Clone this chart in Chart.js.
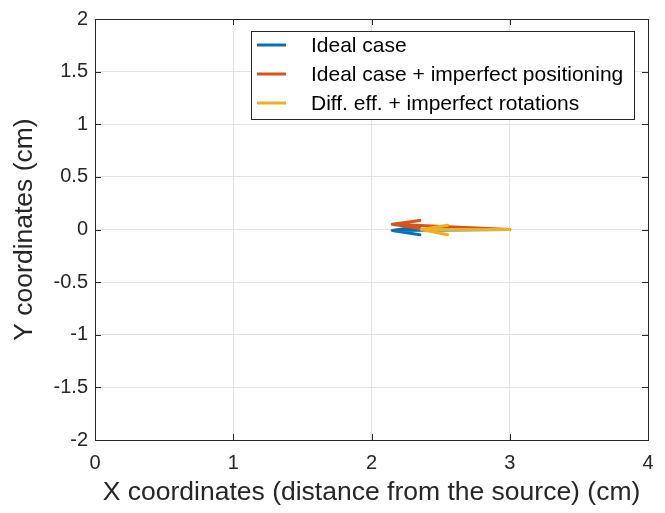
<!DOCTYPE html>
<html>
<head>
<meta charset="utf-8">
<script src="https://cdn.jsdelivr.net/npm/chart.js@4"></script>
<style>
  html, body { margin: 0; padding: 0; background: #fff; }
  #wrap { width: 665px; height: 513px; }
</style>
</head>
<body>
<div id="wrap"><canvas id="canvas" width="665" height="513"></canvas></div>
<script>
// Nombres de las series (leyenda)
const seriesNames = ["Ideal case", "Ideal case + imperfect positioning", "Diff. eff. + imperfect rotations"];
const seriesColors = ["#0072BD", "#D95319", "#EDB120"];

// Flechas: cola, punta y extremos de la cabeza
const tailX = [3.0, 3.0, 3.0];
const tailY = [0.0, 0.0, 0.0];
const tipX = [2.15, 2.15, 2.36];
const tipY = [-0.01, 0.05, 0.0];
const wingUpX = [2.35, 2.35, 2.55];
const wingUpY = [0.03, 0.085, 0.04];
const wingLoX = [2.35, 2.35, 2.55];
const wingLoY = [-0.05, 0.01, -0.05];

// Ticks de los ejes
const xTicks = [0, 1, 2, 3, 4];
const yTicks = [-2, -1.5, -1, -0.5, 0, 0.5, 1, 1.5, 2];

const FONT = "'Liberation Sans', Arial, sans-serif";

// Arma el recorrido de cada flecha: cola -> punta -> ala -> punta -> ala
const arrowPath = (i) => [
  { x: tailX[i], y: tailY[i] },
  { x: tipX[i], y: tipY[i] },
  { x: wingUpX[i], y: wingUpY[i] },
  { x: tipX[i], y: tipY[i] },
  { x: wingLoX[i], y: wingLoY[i] },
];

// Leyenda dentro del área del gráfico, estilo MATLAB
const boxLegend = {
  id: "boxLegend",
  afterDraw(chart) {
    const ctx = chart.ctx;
    const x0 = 251, y0 = 31, w = 383, h = 88;
    ctx.save();
    ctx.fillStyle = "#fff";
    ctx.fillRect(x0, y0, w, h);
    ctx.strokeStyle = "#262626";
    ctx.lineWidth = 1;
    ctx.strokeRect(x0 + 0.5, y0 + 0.5, w, h);
    ctx.font = "21px " + FONT;
    ctx.textBaseline = "middle";
    seriesNames.forEach((name, i) => {
      const y = 45 + i * 29;
      ctx.strokeStyle = seriesColors[i];
      ctx.lineWidth = 3;
      ctx.beginPath();
      ctx.moveTo(257, y);
      ctx.lineTo(286, y);
      ctx.stroke();
      ctx.fillStyle = "#000";
      ctx.fillText(name, 311, y + 1);
    });
    ctx.restore();
  },
};

// Marcas de los ticks hacia adentro y el borde del área
const innerTicks = {
  id: "innerTicks",
  afterDatasetsDraw(chart) {
    const { ctx, chartArea: a, scales } = chart;
    ctx.save();
    ctx.strokeStyle = "#262626";
    ctx.lineWidth = 1;
    ctx.strokeRect(a.left + 0.5, a.top + 0.5, a.right - a.left, a.bottom - a.top);
    ctx.beginPath();
    xTicks.forEach((v) => {
      const px = Math.round(scales.x.getPixelForValue(v)) + 0.5;
      ctx.moveTo(px, a.bottom); ctx.lineTo(px, a.bottom - 6);
      ctx.moveTo(px, a.top); ctx.lineTo(px, a.top + 6);
    });
    yTicks.forEach((v) => {
      const py = Math.round(scales.y.getPixelForValue(v)) + 0.5;
      ctx.moveTo(a.left, py); ctx.lineTo(a.left + 6, py);
      ctx.moveTo(a.right, py); ctx.lineTo(a.right - 6, py);
    });
    ctx.stroke();
    ctx.restore();
  },
};

const grafico = document.getElementById("canvas");

new Chart(grafico, {
  type: "scatter",
  data: {
    datasets: seriesNames.map((name, i) => ({
      label: name,
      data: arrowPath(i),
      showLine: true,
      borderColor: seriesColors[i],
      backgroundColor: seriesColors[i],
      borderWidth: 3,
      pointRadius: 0,
      borderCapStyle: "round",
      borderJoinStyle: "round",
      order: seriesNames.length - i,
    })),
  },
  options: {
    responsive: false,
    animation: false,
    layout: { padding: { top: 18, right: 17, left: 0, bottom: 0 } },
    plugins: {
      legend: { display: false },
      tooltip: { enabled: false },
    },
    scales: {
      x: {
        type: "linear",
        min: 0,
        max: 4,
        afterBuildTicks: (s) => { s.ticks = xTicks.map((v) => ({ value: v })); },
        afterFit: (s) => { s.height = 73; },
        grid: { color: "#e3e3e3", drawTicks: false },
        border: { display: false },
        ticks: { color: "#262626", font: { family: FONT, size: 20 }, padding: 11, callback: (v) => String(v) },
        title: { display: true, text: "X coordinates (distance from the source) (cm)", color: "#262626", font: { family: FONT, size: 26.5 }, padding: { top: 0, bottom: 4 } },
      },
      y: {
        type: "linear",
        min: -2,
        max: 2,
        afterBuildTicks: (s) => { s.ticks = yTicks.map((v) => ({ value: v })); },
        afterFit: (s) => { s.width = 95; },
        grid: { color: "#e3e3e3", drawTicks: false },
        border: { display: false },
        ticks: { color: "#262626", font: { family: FONT, size: 20 }, padding: 7, callback: (v) => String(v) },
        title: { display: true, text: "Y coordinates (cm)", color: "#262626", font: { family: FONT, size: 26.5 }, padding: { top: 9, bottom: 0 } },
      },
    },
  },
  plugins: [innerTicks, boxLegend],
});
</script>
</body>
</html>
